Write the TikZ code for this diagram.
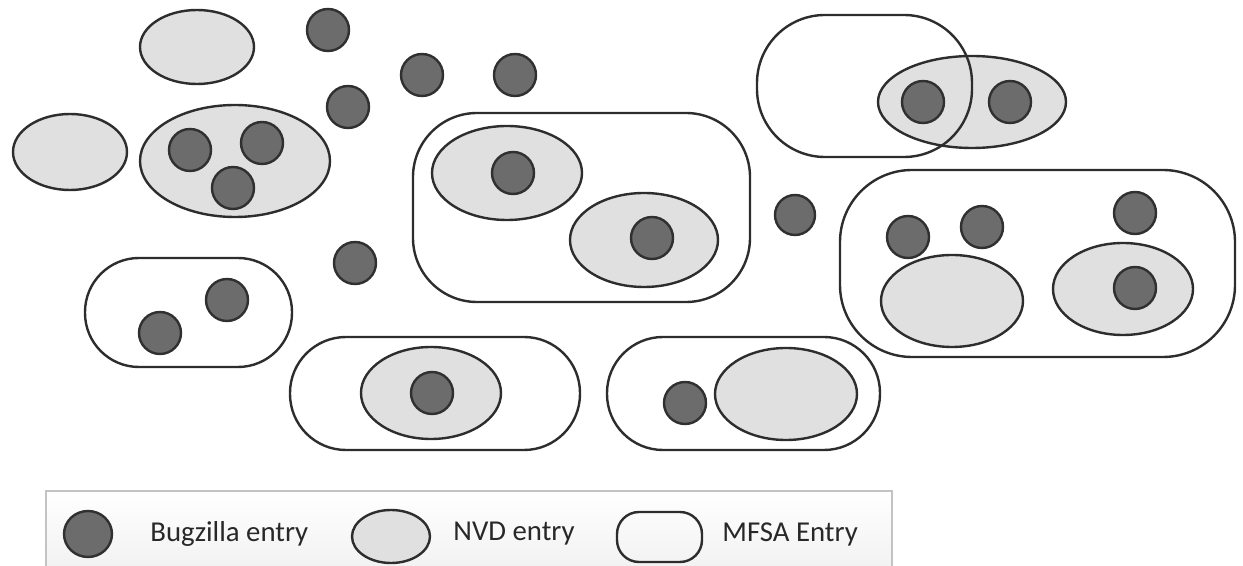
\documentclass[tikz,border=0pt]{standalone}
\usepackage{fontspec}
\setmainfont{Carlito}
\usetikzlibrary{shapes.geometric}
\definecolor{dotfill}{RGB}{108,108,108}
\definecolor{dotline}{RGB}{48,48,48}
\definecolor{nvdfill}{RGB}{224,224,224}
\definecolor{edge}{RGB}{45,45,45}
\definecolor{legline}{RGB}{195,195,195}
\definecolor{legtext}{RGB}{40,40,40}
\tikzset{
  bug/.style={circle, draw=dotline, fill=dotfill, line width=1.2pt, inner sep=0pt, minimum size=21pt},
  nvd/.style n args={2}{ellipse, draw=edge, fill=nvdfill, line width=1.2pt, inner sep=0pt, minimum width=#1pt, minimum height=#2pt},
  mfsa/.style n args={3}{rectangle, draw=edge, line width=1.2pt, inner sep=0pt, minimum width=#1pt, minimum height=#2pt, rounded corners=#3pt},
  legtxt/.style={anchor=west, text=legtext, font=\fontsize{14.4}{17}\selectfont, inner sep=0pt}
}
\begin{document}
\begin{tikzpicture}[x=0.5pt,y=-0.5pt]
\useasboundingbox (0,0) rectangle (1243,566);
% MFSA entries (outlines)
\node[mfsa={168.5}{94.5}{32}] (m1) at (581.5,207.5) {};
\node[mfsa={197.5}{93.5}{36}] (m3) at (1037.5,263.5) {};
\node[mfsa={103.5}{54.5}{27}] (m4) at (188.5,312.5) {};
\node[mfsa={145}{56.5}{28}] (m5) at (435,393.5) {};
\node[mfsa={136.5}{56.5}{28}] (m6) at (743.5,393.5) {};
% Bugzilla entry partly hidden by an NVD ellipse
\node[bug] (d13) at (908,237) {};
% NVD entries
\node[nvd={57}{37}] (n1) at (197,47) {};
\node[nvd={57}{38}] (n2) at (70,152) {};
\node[nvd={95}{56}] (n3) at (235,161) {};
\node[nvd={75}{47}] (n4) at (507,173) {};
\node[nvd={74}{47}] (n5) at (644,240) {};
\node[nvd={94}{46}] (n6) at (972,102) {};
\node[nvd={71}{46}] (n7) at (952,301) {};
\node[nvd={70}{46}] (n8) at (1123,289) {};
\node[nvd={70}{46}] (n9) at (431,393) {};
\node[nvd={71}{46}] (n10) at (786,394) {};
% MFSA overlapping an NVD
\node[mfsa={107.5}{71}{34}] (m2) at (864.5,86) {};
% Bugzilla entries
\node[bug] (d1) at (328,30) {};
\node[bug] (d2) at (422,75) {};
\node[bug] (d3) at (515,75) {};
\node[bug] (d4) at (348,107) {};
\node[bug] (d5) at (190,150) {};
\node[bug] (d6) at (262,143) {};
\node[bug] (d7) at (233,188) {};
\node[bug] (d8) at (513,173) {};
\node[bug] (d9) at (652,238) {};
\node[bug] (d10) at (923,102) {};
\node[bug] (d11) at (1010,102) {};
\node[bug, minimum size=20pt] (d12) at (795,215) {};
\node[bug] (d14) at (982,227) {};
\node[bug] (d15) at (1135,213) {};
\node[bug] (d16) at (1135,288) {};
\node[bug] (d17) at (227,300) {};
\node[bug] (d18) at (160,333) {};
\node[bug] (d19) at (355,263) {};
\node[bug] (d20) at (432,393) {};
\node[bug] (d21) at (685,403) {};
% Legend
\node[rectangle, draw=legline, line width=1pt, top color=white, bottom color=black!6, minimum width=423pt, minimum height=45pt, inner sep=0pt] (legend) at (469,536) {};
\node[ellipse, draw=dotline, fill=dotfill, line width=1.2pt, inner sep=0pt, minimum width=24pt, minimum height=23pt] (lbug) at (88,534) {};
\node[legtxt] (tbug) at (150,534) {Bugzilla entry};
\node[nvd={39}{26.5}] (lnvd) at (391,536.5) {};
\node[legtxt] (tnvd) at (453,534) {NVD entry};
\node[mfsa={42.5}{25}{11}] (lmfsa) at (659.5,537) {};
\node[legtxt] (tmfsa) at (722,534) {MFSA Entry};
\end{tikzpicture}
\end{document}
